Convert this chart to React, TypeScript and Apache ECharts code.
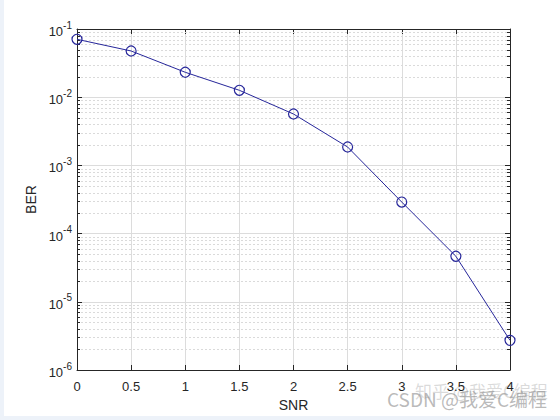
import React, { useEffect, useRef } from "react";
import * as echarts from "echarts";

const SNR = [0, 0.5, 1, 1.5, 2, 2.5, 3, 3.5, 4];
const BER = [0.0706, 0.0476, 0.0232, 0.01262, 0.00567, 0.00186, 2.9e-4, 4.65e-5, 2.72e-6];
const X_MIN = 0;
const X_MAX = 4;
const X_STEP = 0.5;
const Y_MIN = 1e-6;
const Y_MAX = 1e-1;
const DECADES = [-6, -5, -4, -3, -2];
const MINOR_MULTIPLIERS = [2, 3, 4, 5, 6, 7, 8, 9];

const AXIS_COLOR = "#262626";
const LINE_COLOR = "#26269a";

export default function App() {
  const ref = useRef<HTMLDivElement>(null);

  useEffect(() => {
    if (!ref.current) return;
    const chart = echarts.init(ref.current, null, { renderer: "svg" });
    const minorVals: number[][] = [];
    DECADES.forEach((d) =>
      MINOR_MULTIPLIERS.forEach((m) => minorVals.push([X_MIN, m * Math.pow(10, d)]))
    );
    const font = "Liberation Sans, Arial, sans-serif";

    const option: any = {
      animation: false,
      backgroundColor: "#ffffff",
      grid: { left: 77, right: 50, top: 29, bottom: 50, containLabel: false },
      xAxis: [
        {
          type: "value",
          min: X_MIN,
          max: X_MAX,
          interval: X_STEP,
          name: "SNR",
          nameLocation: "middle",
          nameGap: 27,
          nameTextStyle: { color: AXIS_COLOR, fontSize: 14, fontFamily: font },
          axisLine: { show: true, onZero: false, lineStyle: { color: AXIS_COLOR, width: 1 } },
          axisTick: { show: true, inside: true, length: 5, lineStyle: { color: AXIS_COLOR } },
          axisLabel: {
            color: AXIS_COLOR,
            fontSize: 13,
            fontFamily: font,
            margin: 10,
            formatter: (v: number) => String(v),
          },
          splitLine: { show: true, lineStyle: { color: "#dcdcdc", width: 1 } },
        },
        {
          type: "value",
          position: "top",
          min: X_MIN,
          max: X_MAX,
          interval: X_STEP,
          axisLine: { show: true, onZero: false, lineStyle: { color: AXIS_COLOR, width: 1 } },
          axisTick: { show: true, inside: true, length: 5, lineStyle: { color: AXIS_COLOR } },
          axisLabel: { show: false },
          splitLine: { show: false },
        },
      ],
      yAxis: [
        {
          type: "log",
          logBase: 10,
          min: Y_MIN,
          max: Y_MAX,
          name: "BER",
          nameLocation: "middle",
          nameGap: 37,
          nameTextStyle: { color: AXIS_COLOR, fontSize: 14, fontFamily: font },
          axisLine: { show: true, onZero: false, lineStyle: { color: AXIS_COLOR, width: 1 } },
          axisTick: { show: true, inside: true, length: 5, lineStyle: { color: AXIS_COLOR } },
          axisLabel: {
            margin: 5,
            formatter: (v: number) => `{b|10}{s|${Math.round(Math.log10(v))}}`,
            rich: {
              b: { fontSize: 13, fontFamily: font, color: AXIS_COLOR, verticalAlign: "bottom", lineHeight: 18 },
              s: { fontSize: 10, fontFamily: font, color: AXIS_COLOR, verticalAlign: "top", lineHeight: 18 },
            },
          },
          splitLine: { show: true, lineStyle: { color: "#dcdcdc", width: 1 } },
        },
        {
          type: "log",
          logBase: 10,
          min: Y_MIN,
          max: Y_MAX,
          position: "right",
          axisLine: { show: true, onZero: false, lineStyle: { color: AXIS_COLOR, width: 1 } },
          axisTick: { show: true, inside: true, length: 5, lineStyle: { color: AXIS_COLOR } },
          axisLabel: { show: false },
          splitLine: { show: false },
        },
      ],
      series: [
        {
          type: "custom",
          xAxisIndex: 0,
          yAxisIndex: 0,
          silent: true,
          z: 1,
          data: minorVals,
          encode: { x: 0, y: 1 },
          renderItem: (params: any, api: any) => {
            const cs = params.coordSys;
            const y = Math.round(api.coord([X_MIN, api.value(1)])[1]) + 0.5;
            const x0 = cs.x;
            const x1 = cs.x + cs.width;
            return {
              type: "group",
              children: [
                {
                  type: "line",
                  shape: { x1: x0, y1: y, x2: x1, y2: y },
                  style: { stroke: "#dadada", lineWidth: 1, lineDash: [2, 2] },
                },
                {
                  type: "line",
                  shape: { x1: x0, y1: y, x2: x0 + 3, y2: y },
                  style: { stroke: AXIS_COLOR, lineWidth: 1 },
                },
                {
                  type: "line",
                  shape: { x1: x1 - 3, y1: y, x2: x1, y2: y },
                  style: { stroke: AXIS_COLOR, lineWidth: 1 },
                },
              ],
            };
          },
        },
        {
          type: "line",
          xAxisIndex: 0,
          yAxisIndex: 0,
          z: 5,
          data: SNR.map((x, i) => [x, BER[i]]),
          symbol: "circle",
          symbolSize: 10,
          showSymbol: true,
          lineStyle: { color: LINE_COLOR, width: 1 },
          itemStyle: { color: "rgba(0,0,0,0)", borderColor: LINE_COLOR, borderWidth: 1.2 },
        },
      ],
      graphic: [
        { type: "rect", left: 0, top: 0, shape: { width: 4, height: 420 }, style: { fill: "#edf2f9" }, silent: true },
        { type: "rect", left: 0, top: 416, shape: { width: 560, height: 4 }, style: { fill: "#edf2f9" }, silent: true },
        {
          type: "text",
          left: 415,
          top: 382,
          silent: true,
          style: { text: "知乎 @我爱C编程", fill: "rgba(150,150,150,0.35)", fontSize: 17, fontFamily: "Noto Sans CJK SC, sans-serif" },
        },
        {
          type: "text",
          left: 387,
          top: 389,
          silent: true,
          style: { text: "CSDN @我爱C编程", fill: "rgba(140,140,140,0.6)", fontSize: 19, fontFamily: "Noto Sans CJK SC, sans-serif" },
        },
      ],
    };
    chart.setOption(option);
    return () => chart.dispose();
  }, []);

  return (
    <div
      ref={ref}
      style={{ position: "fixed", left: 0, top: 0, width: 560, height: 420 }}
    />
  );
}
